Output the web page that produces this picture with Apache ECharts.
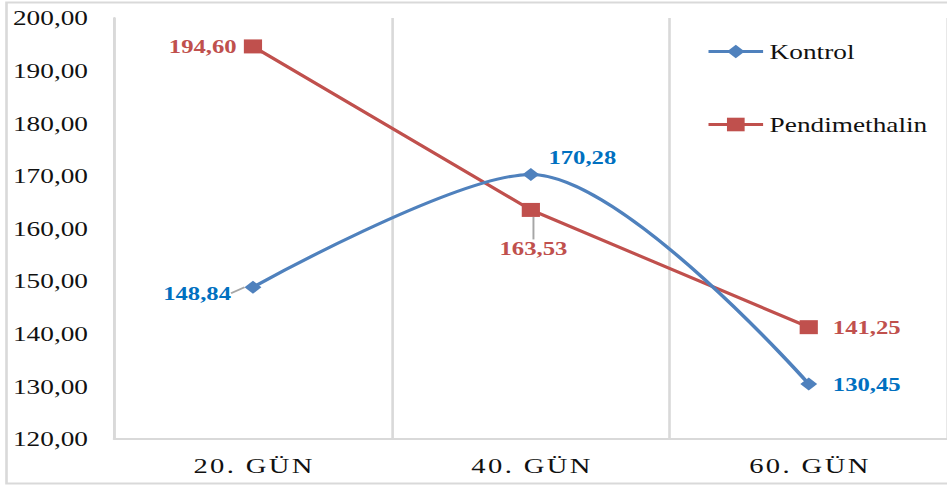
<!DOCTYPE html>
<html>
<head>
<meta charset="utf-8">
<script src="https://cdn.jsdelivr.net/npm/echarts@6/dist/echarts.min.js"></script>
<style>
  html, body { margin: 0; padding: 0; background: #fff; overflow: hidden; width: 947px; height: 485px; }
  #chart { width: 729px; height: 485px; transform: scaleX(1.3); transform-origin: 0 0; }
</style>
</head>
<body>
<div id="chart"></div>
<script>
// Plant measurements per sampling day
const categories = ['20. GÜN', '40. GÜN', '60. GÜN'];
const kontrol = [148.84, 170.28, 130.45];
const pendimethalin = [194.60, 163.53, 141.25];
const yTicks = { min: 120, max: 200, step: 10 };

// Label placement for each point; dx/dy are applied through labelLayout,
// and labels flagged with `line` get a grey leader line back to the marker.
const kontrolLabelPlacement = [
  { position: 'inside', distance: 0, dx: -43, dy: 6, line: true },
  { position: 'right', distance: 7, dx: 0, dy: -17, line: false },
  { position: 'right', distance: 12, dx: 0, dy: 1, line: false }
];
const pendLabelPlacement = [
  { position: 'left', distance: 5.5, dx: 0, dy: 0, line: false },
  { position: 'inside', distance: 0, dx: 2, dy: 39, line: true },
  { position: 'right', distance: 11.5, dx: 0, dy: 0, line: false }
];

const SERIF = '"Liberation Serif", "Times New Roman", serif';
const comma = v => v.toFixed(2).replace('.', ',');
const spaced = s => s.split('').join('\u200A');

function buildData(values, placement) {
  return values.map((v, i) => {
    const p = placement[i];
    return {
      value: v,
      label: { position: p.position, distance: p.distance },
      labelLine: { show: p.line, lineStyle: { color: '#a6a6a6', width: 1.5 } }
    };
  });
}

function layoutFor(placement) {
  return params => {
    const p = placement[params.dataIndex];
    return p ? { dx: p.dx, dy: p.dy } : {};
  };
}

const labelBase = { show: true, fontFamily: SERIF, fontSize: 19, fontWeight: 'bold', formatter: p => comma(p.value) };

const chart = echarts.init(document.getElementById('chart'), null, { renderer: 'svg' });
chart.setOption({
  animation: false,
  backgroundColor: '#fff',
  graphic: [{
    type: 'rect',
    shape: { x: 5, y: 2.5, width: 800, height: 481 },
    style: { fill: 'none', stroke: '#d9d9d9', lineWidth: 2 },
    silent: true,
    z: -1
  }],
  grid: { left: 87.7, right: 0, top: 18, bottom: 46, containLabel: false },
  legend: {
    orient: 'vertical',
    left: 538.5,
    top: 36,
    itemWidth: 42,
    itemHeight: 17,
    itemGap: 52,
    lineStyle: { width: 3 },
    textStyle: { fontFamily: SERIF, fontSize: 21, color: '#111' },
    data: ['Kontrol', 'Pendimethalin']
  },
  xAxis: {
    type: 'category',
    data: categories,
    axisLine: { show: true, lineStyle: { color: '#d9d9d9', width: 2 } },
    axisTick: { show: false },
    splitLine: { show: true, lineStyle: { color: '#d9d9d9', width: 2 } },
    axisLabel: {
      margin: 16,
      fontFamily: SERIF,
      fontSize: 22,
      color: '#111',
      formatter: spaced
    }
  },
  yAxis: {
    type: 'value',
    min: yTicks.min,
    max: yTicks.max,
    interval: yTicks.step,
    axisLine: { show: true, lineStyle: { color: '#d9d9d9', width: 2 } },
    axisTick: { show: false },
    splitLine: { show: false },
    axisLabel: {
      margin: 20,
      fontFamily: SERIF,
      fontSize: 21,
      color: '#111',
      formatter: v => comma(v)
    }
  },
  series: [
    {
      name: 'Kontrol',
      type: 'line',
      smooth: 0.3,
      data: buildData(kontrol, kontrolLabelPlacement),
      symbol: 'diamond',
      symbolSize: [13, 13],
      lineStyle: { color: '#4f81bd', width: 3 },
      itemStyle: { color: '#4f81bd' },
      label: Object.assign({}, labelBase, { color: '#0070c0' }),
      labelLayout: layoutFor(kontrolLabelPlacement),
      z: 3
    },
    {
      name: 'Pendimethalin',
      type: 'line',
      data: buildData(pendimethalin, pendLabelPlacement),
      symbol: 'rect',
      symbolSize: [14, 14],
      lineStyle: { color: '#c0504d', width: 3 },
      itemStyle: { color: '#c0504d' },
      label: Object.assign({}, labelBase, { color: '#c0504d' }),
      labelLayout: layoutFor(pendLabelPlacement),
      z: 2
    }
  ]
});
</script>
</body>
</html>
